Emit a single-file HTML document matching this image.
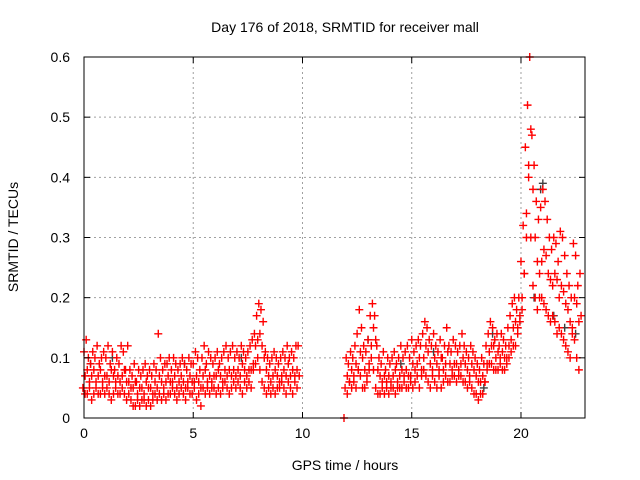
<!DOCTYPE html>
<html><head><meta charset="utf-8"><style>
body{margin:0;background:#fff}
svg{display:block;font-family:"Liberation Sans",sans-serif}
</style></head><body>
<svg id="chart" width="640" height="480">
<text x="345" y="32" text-anchor="middle" font-size="14">Day 176 of 2018, SRMTID for receiver mall</text>
<text x="345" y="470" text-anchor="middle" font-size="14">GPS time / hours</text>
<text transform="translate(18,237) rotate(-90)" text-anchor="middle" font-size="14">SRMTID / TECUs</text>
<g id="grid"></g><g id="marks"></g><g id="axes"></g>
</svg>
<script>
const xTicks=[0,5,10,15,20];
const yTicks=[0,0.1,0.2,0.3,0.4,0.5,0.6];
const yTickLabels=["0","0.1","0.2","0.3","0.4","0.5","0.6"];
const seg1Start=0.0, seg2Start=12.0, sampleStep=0.1;
const hi1=[.11,.13,.10,.09,.11,.10,.12,.09,.10,.11,.10,.12,.09,.11,.08,.10,.09,.12,.11,.08,.12,.08,.07,.09,.06,.08,.07,.08,.09,.07,.08,.07,.09,.08,.14,.10,.08,.09,.09,.10,.08,.10,.09,.08,.09,.10,.09,.08,.10,.09,.09,.11,.10,.08,.10,.12,.09,.11,.10,.09,.10,.11,.09,.10,.11,.12,.10,.11,.12,.10,.11,.10,.12,.11,.10,.11,.12,.13,.14,.17,.19,.18,.16,.11,.10,.09,.10,.11,.10,.09,.10,.11,.10,.12,.10,.11,.10,.12,.12];
const mid1=[.07,.08,.06,.07,.08,.06,.07,.08,.06,.07,.07,.06,.08,.07,.06,.07,.06,.07,.08,.06,.06,.05,.05,.06,.04,.05,.05,.04,.06,.05,.05,.04,.06,.05,.07,.06,.05,.06,.07,.06,.06,.07,.05,.06,.07,.06,.05,.06,.07,.06,.06,.07,.06,.05,.07,.08,.06,.07,.06,.07,.07,.08,.07,.06,.08,.07,.08,.07,.08,.07,.08,.07,.09,.08,.07,.08,.08,.09,.12,.13,.14,.12,.10,.08,.07,.06,.07,.08,.07,.06,.07,.08,.07,.09,.07,.08,.07,.08,.07];
const lo1=[.05,.04,.04,.05,.03,.04,.05,.04,.04,.05,.04,.05,.04,.03,.04,.05,.04,.04,.05,.04,.03,.04,.03,.02,.02,.03,.02,.03,.03,.02,.03,.02,.03,.04,.03,.04,.03,.04,.03,.04,.04,.05,.04,.03,.04,.05,.04,.03,.05,.04,.04,.05,.03,.04,.02,.05,.04,.05,.04,.05,.05,.04,.05,.04,.05,.06,.05,.04,.05,.06,.05,.06,.05,.04,.06,.05,.06,.05,.08,.09,.10,.08,.06,.05,.04,.05,.04,.05,.04,.05,.05,.06,.05,.04,.06,.05,.04,.06,.05];
const hi2=[.10,.09,.11,.10,.12,.14,.18,.15,.12,.11,.13,.17,.19,.17,.12,.10,.09,.11,.08,.10,.09,.10,.11,.09,.10,.12,.10,.11,.12,.10,.13,.11,.12,.13,.12,.14,.16,.15,.13,.12,.14,.12,.11,.13,.10,.12,.15,.12,.11,.13,.12,.11,.12,.14,.12,.11,.10,.12,.11,.10,.09,.08,.10,.09,.12,.14,.16,.15,.13,.14,.12,.14,.13,.12,.15,.17,.19,.20,.18,.20,.26,.32,.45,.52,.60,.47,.42,.36,.33,.35,.38,.36,.33,.30,.28,.30,.29,.26,.31,.30,.27,.24,.22,.20,.29,.27,.22,.24];
const mid2=[.07,.06,.08,.07,.09,.08,.11,.10,.08,.07,.09,.12,.15,.13,.08,.07,.06,.07,.06,.07,.06,.07,.08,.06,.07,.08,.07,.08,.07,.07,.09,.08,.09,.10,.08,.10,.12,.11,.09,.08,.10,.09,.08,.10,.08,.09,.11,.09,.08,.09,.09,.08,.09,.10,.09,.08,.07,.09,.08,.07,.06,.06,.07,.06,.09,.11,.12,.12,.10,.11,.10,.11,.10,.10,.12,.13,.15,.16,.15,.17,.20,.24,.34,.42,.48,.38,.30,.26,.24,.26,.28,.27,.24,.23,.22,.24,.23,.20,.22,.21,.19,.18,.16,.15,.20,.19,.16,.17];
const lo2=[.05,.04,.06,.05,.06,.05,.08,.07,.05,.05,.06,.08,.10,.08,.05,.04,.04,.05,.04,.05,.04,.05,.05,.04,.05,.05,.05,.06,.05,.05,.06,.05,.06,.07,.05,.07,.08,.07,.06,.05,.07,.06,.05,.07,.05,.06,.07,.06,.06,.07,.07,.06,.07,.07,.06,.06,.05,.06,.05,.04,.04,.03,.04,.04,.06,.08,.09,.09,.08,.08,.08,.09,.08,.08,.09,.10,.11,.12,.12,.14,.16,.18,.24,.30,.40,.30,.22,.20,.18,.20,.20,.19,.18,.17,.16,.17,.16,.14,.15,.14,.13,.12,.11,.10,.14,.13,.10,.08];
const extraT=[11.9];
const extraV=[0.0];
const greyT=[0.3,1.3,4.6,7.2,13.0,14.5,16.0,18.3,18.7,20.9,21.0,20.6,21.5,22.0,22.5];
const greyV=[.09,.10,.09,.10,.13,.09,.11,.05,.14,.38,.39,.20,.17,.15,.14];

const L=84,R=585,T=57,B=418,XMAX=22.93,YMAX=0.6;
const xS=t=>L+t/XMAX*(R-L);
const yS=v=>B-v/YMAX*(B-T);
const NS="http://www.w3.org/2000/svg";
function mk(tag,attrs,parent){const e=document.createElementNS(NS,tag);for(const k in attrs)e.setAttribute(k,attrs[k]);parent.appendChild(e);return e;}
const grid=document.getElementById('grid'),marks=document.getElementById('marks'),axes=document.getElementById('axes');
xTicks.forEach(t=>{
  const x=xS(t);
  if(t>0){const g=mk('line',{x1:x,x2:x,y1:T,y2:B,stroke:'#a0a0a0','stroke-dasharray':'2,3'},grid);
  
  }
  mk('line',{x1:x,x2:x,y1:B,y2:B-6,stroke:'#000'},axes);
  mk('line',{x1:x,x2:x,y1:T,y2:T+6,stroke:'#000'},axes);
  const tx=mk('text',{x:x,y:B+20,'text-anchor':'middle','font-size':14},axes);tx.textContent=t;
  
  
});
yTicks.forEach((v,i)=>{
  const y=yS(v);
  if(v>0&&v<YMAX){const g=mk('line',{x1:L,x2:R,y1:y,y2:y,stroke:'#a0a0a0','stroke-dasharray':'2,3'},grid);
  
  }
  mk('line',{x1:L,x2:L+6,y1:y,y2:y,stroke:'#000'},axes);
  mk('line',{x1:R,x2:R-6,y1:y,y2:y,stroke:'#000'},axes);
  const tx=mk('text',{x:L-14,y:y+5,'text-anchor':'end','font-size':14},axes);tx.textContent=yTickLabels[i];
  
  
});
const fr=mk('rect',{x:L,y:T,width:R-L,height:B-T,fill:'none',stroke:'#000'},axes);


function plus(t,v,col,name,dx){
  const x=xS(t)+dx,y=yS(v);
  const p=mk('path',{d:`M${x-4},${y}h8M${x},${y-4}v8`,stroke:col,'stroke-width':1.4,fill:'none'},marks);
  
  
}
greyT.forEach((t,i)=>plus(t,greyV[i],'#404040','grey-point',0));
const offs=[0,1.1,-1.1];
[hi1,mid1,lo1].forEach((a,k)=>a.forEach((v,i)=>plus(seg1Start+i*sampleStep,v,'#ff0000','srmtid-point',offs[k])));
[hi2,mid2,lo2].forEach((a,k)=>a.forEach((v,i)=>plus(seg2Start+i*sampleStep,v,'#ff0000','srmtid-point',offs[k])));
extraT.forEach((t,i)=>plus(t,extraV[i],'#ff0000','srmtid-point',0));
</script>
</body></html>
